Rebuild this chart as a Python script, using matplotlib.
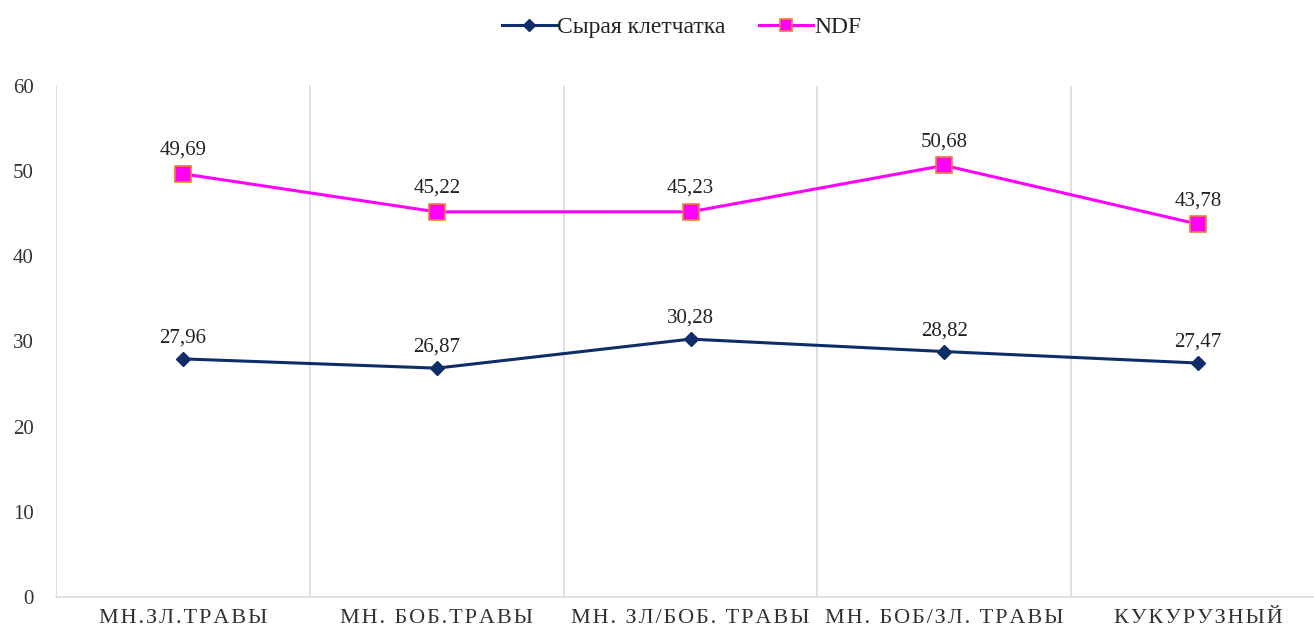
import numpy as np
import matplotlib.pyplot as plt

categories = ['МН.ЗЛ.ТРАВЫ', 'МН. БОБ.ТРАВЫ', 'МН. ЗЛ/БОБ. ТРАВЫ', 'МН. БОБ/ЗЛ. ТРАВЫ', 'КУКУРУЗНЫЙ']
fiber = [27.96, 26.87, 30.28, 28.82, 27.47]
ndf = [49.69, 45.22, 45.23, 50.68, 43.78]
y_ticks = [0, 10, 20, 30, 40, 50, 60]

plt.rcParams['font.family'] = ['Liberation Serif', 'DejaVu Serif']

fig = plt.figure(figsize=(13.14, 6.31), dpi=100)
ax = fig.add_axes([0.0426, 0.0539, 0.9658, 0.8098])

x = np.arange(len(categories))
ax.plot(x, fiber, color='#0F2D69', lw=2.2, marker='D', ms=7, mfc='#0F2D69', mec='#0F2D69',
        label='Сырая клетчатка', clip_on=False)
ax.plot(x, ndf, color='#FF00FF', lw=2.2, marker='s', ms=11, mfc='#FF00FF', mec='#ED7D31', mew=1.2,
        label='NDF', clip_on=False)

for xi, v in zip(x, fiber):
    ax.annotate(f'{v:.2f}'.replace('.', ','), (xi, v), xytext=(0, 8), textcoords='offset points',
                ha='center', va='bottom', fontsize=15, color='#222222')
for xi, v in zip(x, ndf):
    ax.annotate(f'{v:.2f}'.replace('.', ','), (xi, v), xytext=(0, 10), textcoords='offset points',
                ha='center', va='bottom', fontsize=15, color='#222222')

# letter spacing like the original
spaced = ['\u200a'.join(c) for c in categories]

ax.set_xlim(-0.5, len(categories) - 0.5)
ax.set_ylim(0, 60)
ax.set_yticks(y_ticks)
ax.set_xticks(x)
ax.set_xticklabels(spaced, fontsize=16, color='#333333')
ax.tick_params(axis='y', labelsize=15, labelcolor='#333333', length=0, pad=16)
ax.tick_params(axis='x', length=0, pad=9)

ax.set_xticks(np.arange(-0.5, len(categories) - 0.5, 1), minor=True)
ax.tick_params(axis='x', which='minor', length=0)
ax.grid(True, which='minor', axis='x', color='#D9D9D9', lw=1.2)
ax.grid(False, which='major')

for s in ['top', 'right', 'left']:
    ax.spines[s].set_visible(False)
ax.spines['bottom'].set_color('#D9D9D9')
ax.spines['bottom'].set_linewidth(1.2)

leg = ax.legend(loc='center', bbox_to_anchor=(0.5 * 1241 / 1269 + 0.004, 1.115), ncol=2, frameon=False,
                fontsize=17, handlelength=2.3, columnspacing=1.4, handletextpad=0.05, markerscale=0.85)
for t in leg.get_texts():
    t.set_color('#222222')

fig.savefig('out.png', dpi=100)
